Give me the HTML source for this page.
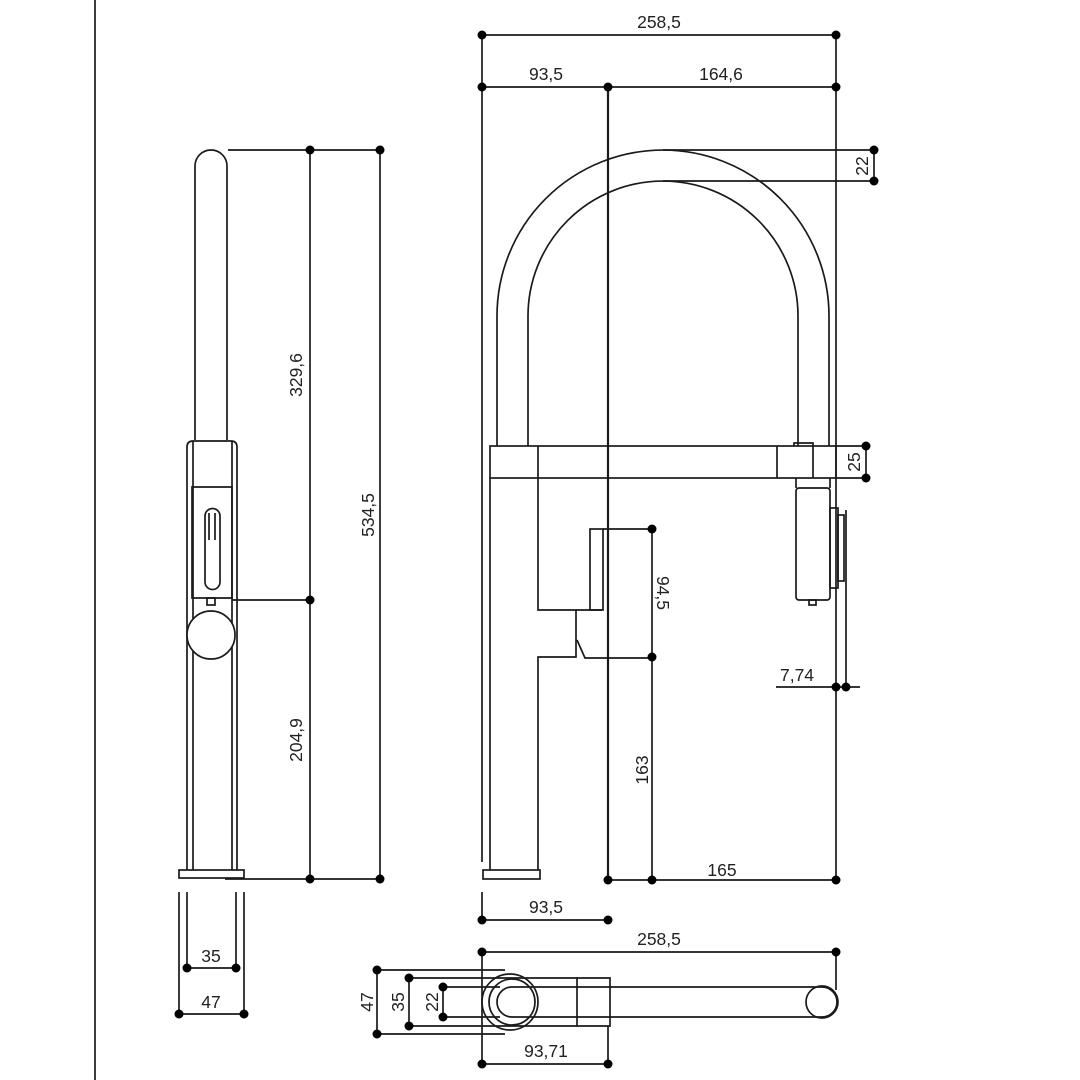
<!DOCTYPE html>
<html><head><meta charset="utf-8"><style>
html,body{margin:0;padding:0;background:#fff;}
svg{display:block}
text{font-family:"Liberation Sans",sans-serif;font-size:17.5px;fill:#222;}
</style></head><body>
<svg width="1080" height="1080" viewBox="0 0 1080 1080" xmlns="http://www.w3.org/2000/svg">
<g fill="none" stroke="#1a1a1a" stroke-width="1.7">
<line x1="95" y1="0" x2="95" y2="1080"/>

<path d="M195,440 V166 A16,16 0 0 1 227,166 V440"/>
<path d="M187,870 V447 Q187,441 193,441 H231 Q237,441 237,447 V870"/>
<line x1="193" y1="441" x2="193" y2="870"/>
<line x1="232" y1="441" x2="232" y2="870"/>
<path d="M192,598 V487 H232 V598 Z"/>
<path d="M205,582 V516 A7.5,7.5 0 0 1 220,516 V582 A7.5,7.5 0 0 1 205,582 Z"/>
<path d="M209,513 V540 M215,513 V540"/>
<rect x="207" y="598" width="8" height="7"/>
<circle cx="211" cy="635" r="24" fill="#fff"/>
<rect x="179" y="870" width="65" height="8"/>
<line x1="228" y1="150" x2="380" y2="150"/>
<line x1="310" y1="150" x2="310" y2="880"/>
<line x1="380" y1="150" x2="380" y2="880"/>
<line x1="232" y1="600" x2="310" y2="600"/>
<line x1="225" y1="879" x2="380" y2="879"/>
<line x1="179" y1="892" x2="179" y2="1015"/>
<line x1="244" y1="892" x2="244" y2="1015"/>
<line x1="187" y1="892" x2="187" y2="968"/>
<line x1="236" y1="892" x2="236" y2="968"/>
<line x1="187" y1="968" x2="236" y2="968"/>
<line x1="179" y1="1014" x2="244" y2="1014"/>

<line x1="482" y1="35" x2="482" y2="862"/>
<line x1="482" y1="35" x2="836" y2="35"/>
<line x1="482" y1="87" x2="836" y2="87"/>
<line x1="608" y1="87" x2="608" y2="880" stroke-width="2.2"/>
<line x1="836" y1="35" x2="836" y2="880"/>
<path d="M497,446 V316 A166,166 0 0 1 829,316 V446"/>
<path d="M528,446 V316 A135,135 0 0 1 798,316 V446"/>
<line x1="663" y1="150" x2="874" y2="150"/>
<line x1="663" y1="181" x2="874" y2="181"/>
<line x1="874" y1="150" x2="874" y2="181"/>
<rect x="490" y="446" width="346" height="32"/>
<line x1="538" y1="446" x2="538" y2="478"/>
<line x1="777" y1="446" x2="777" y2="478"/>
<path d="M794,446 V443 H813 V478"/>
<line x1="836" y1="446" x2="866" y2="446"/>
<line x1="836" y1="478" x2="866" y2="478"/>
<line x1="866" y1="446" x2="866" y2="478"/>
<line x1="490" y1="478" x2="490" y2="870"/>
<path d="M538,478 V610 H576 V657 H538 V870"/>
<path d="M576,610 H602 M577,640 L585,658 H652"/>
<rect x="590" y="529" width="13" height="81"/>
<line x1="603" y1="529" x2="652" y2="529"/>
<line x1="652" y1="529" x2="652" y2="880"/>
<rect x="483" y="870" width="57" height="9"/>
<path d="M796,478 V488 M830,478 V488"/>
<rect x="796" y="488" width="34" height="112" rx="3"/>
<rect x="830" y="508" width="8" height="80"/>
<rect x="838" y="515" width="6" height="66"/>
<rect x="809" y="600" width="7" height="5"/>
<line x1="846" y1="510" x2="846" y2="687"/>
<line x1="776" y1="687" x2="860" y2="687"/>
<line x1="608" y1="880" x2="836" y2="880"/>
<line x1="482" y1="892" x2="482" y2="920"/>
<line x1="482" y1="920" x2="608" y2="920"/>

<line x1="482" y1="952" x2="836" y2="952"/>
<line x1="836" y1="952" x2="836" y2="990"/>
<line x1="482" y1="952" x2="482" y2="1064"/>
<line x1="608" y1="1026" x2="608" y2="1064"/>
<line x1="482" y1="1064" x2="608" y2="1064"/>
<circle cx="510" cy="1002" r="28"/>
<circle cx="512" cy="1002" r="23"/>
<path d="M512,987 H822 A15,15 0 0 1 822,1017 H512 A15,15 0 0 1 512,987 Z"/>
<circle cx="822" cy="1002" r="16"/>
<path d="M577,978 V1026 H610 V978 Z"/>
<line x1="377" y1="970" x2="505" y2="970"/>
<line x1="377" y1="1034" x2="505" y2="1034"/>
<line x1="409" y1="978" x2="577" y2="978"/>
<line x1="409" y1="1026" x2="577" y2="1026"/>
<line x1="443" y1="987" x2="500" y2="987"/>
<line x1="443" y1="1017" x2="500" y2="1017"/>
<line x1="377" y1="970" x2="377" y2="1034"/>
<line x1="409" y1="978" x2="409" y2="1026"/>
<line x1="443" y1="987" x2="443" y2="1017"/>
</g>

<g fill="#000">
<circle cx="310" cy="150" r="4.5"/><circle cx="380" cy="150" r="4.5"/>
<circle cx="310" cy="600" r="4.5"/><circle cx="310" cy="879" r="4.5"/><circle cx="380" cy="879" r="4.5"/>
<circle cx="187" cy="968" r="4.5"/><circle cx="236" cy="968" r="4.5"/>
<circle cx="179" cy="1014" r="4.5"/><circle cx="244" cy="1014" r="4.5"/>
<circle cx="482" cy="35" r="4.5"/><circle cx="836" cy="35" r="4.5"/>
<circle cx="482" cy="87" r="4.5"/><circle cx="608" cy="87" r="4.5"/><circle cx="836" cy="87" r="4.5"/>
<circle cx="874" cy="150" r="4.5"/><circle cx="874" cy="181" r="4.5"/>
<circle cx="866" cy="446" r="4.5"/><circle cx="866" cy="478" r="4.5"/>
<circle cx="652" cy="529" r="4.5"/><circle cx="652" cy="657" r="4.5"/>
<circle cx="836" cy="687" r="4.5"/><circle cx="846" cy="687" r="4.5"/>
<circle cx="608" cy="880" r="4.5"/><circle cx="652" cy="880" r="4.5"/><circle cx="836" cy="880" r="4.5"/>
<circle cx="482" cy="920" r="4.5"/><circle cx="608" cy="920" r="4.5"/>
<circle cx="482" cy="952" r="4.5"/><circle cx="836" cy="952" r="4.5"/>
<circle cx="377" cy="970" r="4.5"/><circle cx="377" cy="1034" r="4.5"/>
<circle cx="409" cy="978" r="4.5"/><circle cx="409" cy="1026" r="4.5"/>
<circle cx="443" cy="987" r="4.5"/><circle cx="443" cy="1017" r="4.5"/>
<circle cx="482" cy="1064" r="4.5"/><circle cx="608" cy="1064" r="4.5"/>
</g>

<g text-anchor="middle">
<text x="659" y="28">258,5</text>
<text x="546" y="80">93,5</text>
<text x="721" y="80">164,6</text>
<text x="722" y="876">165</text>
<text x="546" y="913">93,5</text>
<text x="797" y="681">7,74</text>
<text x="659" y="945">258,5</text>
<text x="546" y="1057">93,71</text>
<text x="211" y="962">35</text>
<text x="211" y="1008">47</text>
<text transform="translate(302,375) rotate(-90)">329,6</text>
<text transform="translate(374,515) rotate(-90)">534,5</text>
<text transform="translate(302,740) rotate(-90)">204,9</text>
<text transform="translate(648,770) rotate(-90)">163</text>
<text transform="translate(657,593) rotate(90)">94,5</text>
<text transform="translate(868,166) rotate(-90)">22</text>
<text transform="translate(860,462) rotate(-90)">25</text>
<text transform="translate(373,1002) rotate(-90)">47</text>
<text transform="translate(404,1002) rotate(-90)">35</text>
<text transform="translate(438,1002) rotate(-90)">22</text>
</g>
</svg>
</body></html>
